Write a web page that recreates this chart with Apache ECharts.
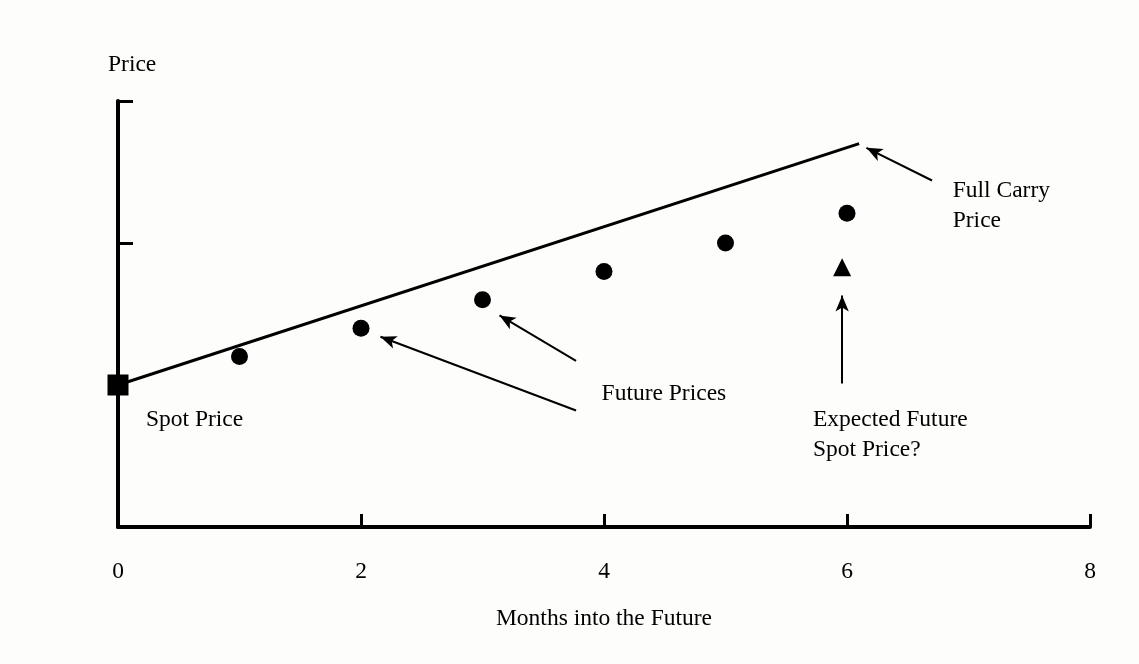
<!DOCTYPE html>
<html>
<head>
<meta charset="utf-8">
<script src="https://cdn.jsdelivr.net/npm/echarts@6/dist/echarts.min.js"></script>
<style>
html,body{margin:0;padding:0;background:#fdfdfc;}
#chart{width:1139px;height:664px;}
</style>
</head>
<body>
<div id="chart"></div>
<script>
// Data (x = months, y = price units)
var xTicks = [0, 2, 4, 6, 8];
var yTicks = [0, 2, 3];
var spotPrice = [[0, 1.0]];
var fullCarryLine = [[0, 1.0], [6.1, 2.7]];
var futurePrices = [[1, 1.2], [2, 1.4], [3, 1.6], [4, 1.8], [5, 2.0], [6, 2.21]];
var expectedSpot = [[5.96, 1.83]];
// Annotation arrows: [from, to]
var arrows = [
  [[6.70, 2.44], [6.16, 2.67]],
  [[3.77, 0.82], [2.16, 1.34]],
  [[3.77, 1.17], [3.14, 1.49]],
  [[5.96, 1.01], [5.96, 1.63]]
];
// Annotation labels: [x, y, text]
var labels = [
  [6.87, 2.37, 'Full Carry\nPrice'],
  [3.98, 0.94, 'Future Prices'],
  [5.72, 0.755, 'Expected Future\nSpot Price?'],
  [0.23, 0.755, 'Spot Price']
];

var font = 'Liberation Serif';
var fs = 23.5;
var chart = echarts.init(document.getElementById('chart'));
chart.setOption({
  backgroundColor: '#fdfdfc',
  animation: false,
  grid: {left: 118, right: 49, top: 101, bottom: 137},
  xAxis: {
    type: 'value', min: 0, max: 8, interval: 2,
    name: 'Months into the Future', nameLocation: 'middle', nameGap: 80,
    nameTextStyle: {fontFamily: font, fontSize: fs, color: '#000'},
    axisLine: {show: true, lineStyle: {color: '#000', width: 4}},
    axisTick: {show: true, inside: true, length: 13, lineStyle: {color: '#000', width: 3}},
    axisLabel: {margin: 33, fontFamily: font, fontSize: fs, color: '#000',
      formatter: function (v) { return xTicks.indexOf(v) >= 0 ? String(v) : ''; }},
    splitLine: {show: false}
  },
  yAxis: {
    type: 'value', min: 0, max: 3, interval: 1,
    name: 'Price', nameLocation: 'end', nameGap: 24,
    nameTextStyle: {fontFamily: font, fontSize: fs, color: '#000', align: 'left', padding: [0, 0, 0, -10]},
    axisLine: {show: true, lineStyle: {color: '#000', width: 4}},
    axisTick: {show: true, inside: true, length: 15, customValues: yTicks, lineStyle: {color: '#000', width: 3}},
    axisLabel: {show: false},
    splitLine: {show: false}
  },
  series: [
    {
      type: 'line', data: fullCarryLine, symbol: 'none',
      lineStyle: {color: '#000', width: 3}, silent: true,
      markLine: {
        silent: true, symbol: ['none', 'arrow'], symbolSize: [10, 16],
        lineStyle: {color: '#000', width: 2, type: 'solid'},
        label: {show: false},
        data: arrows.map(function (a) { return [{coord: a[0]}, {coord: a[1]}]; })
      }
    },
    {
      type: 'scatter', data: futurePrices, symbol: 'circle', symbolSize: 17,
      itemStyle: {color: '#000', opacity: 1}
    },
    {
      type: 'scatter', data: spotPrice, symbol: 'rect', symbolSize: 21, z: 10,
      itemStyle: {color: '#000', opacity: 1}
    },
    {
      type: 'scatter', data: expectedSpot, symbol: 'triangle', symbolSize: 18,
      itemStyle: {color: '#000', opacity: 1}
    },
    {
      type: 'scatter', symbolSize: 0, silent: true,
      itemStyle: {opacity: 1},
      data: labels.map(function (l) { return {value: [l[0], l[1]], name: l[2]}; }),
      label: {
        show: true, position: [0, 0], align: 'left', verticalAlign: 'top',
        formatter: function (p) { return p.name; },
        fontFamily: font, fontSize: fs, color: '#000', lineHeight: 30, padding: [-15, 0, 0, 0]
      }
    }
  ]
});
</script>
</body>
</html>
